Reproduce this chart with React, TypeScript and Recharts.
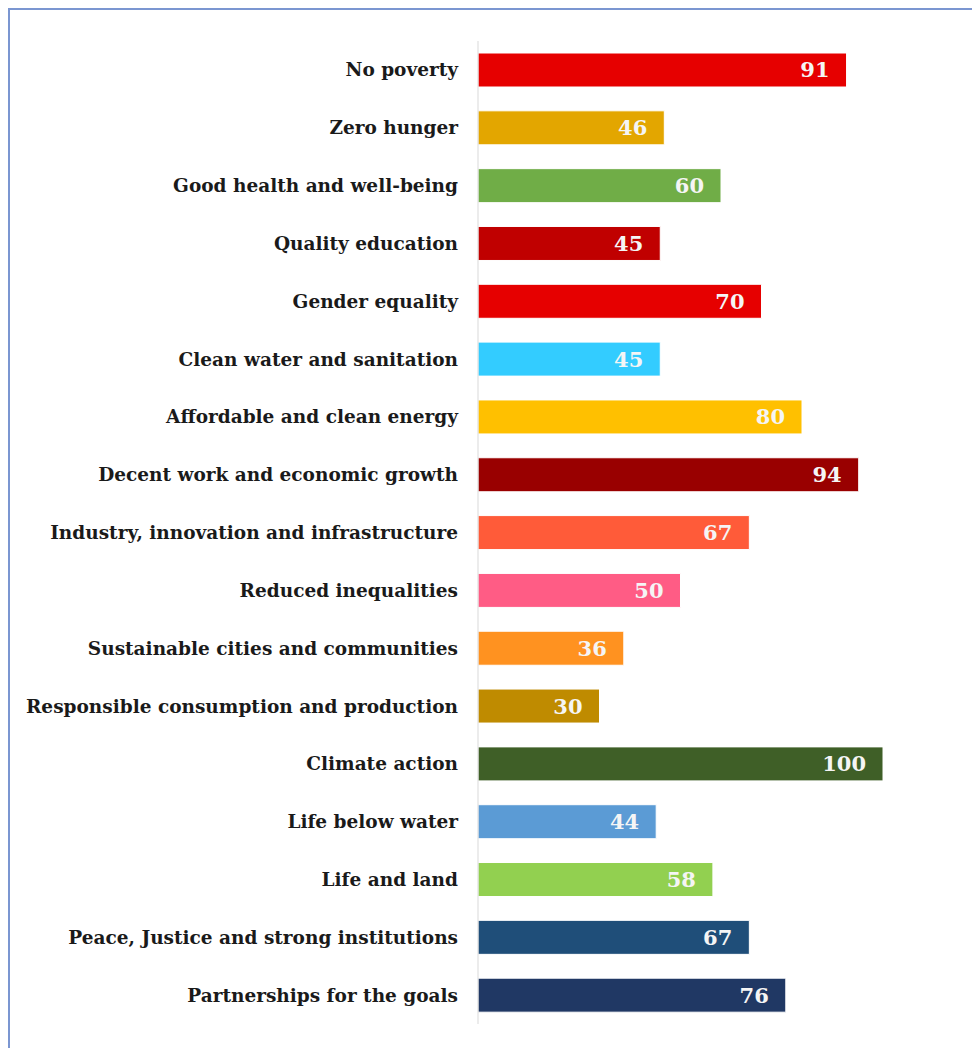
import React from 'react';
import { BarChart, Bar, XAxis, YAxis, Cell, LabelList } from 'recharts';

const goals = [
  'No poverty',
  'Zero hunger',
  'Good health and well-being',
  'Quality education',
  'Gender equality',
  'Clean water and sanitation',
  'Affordable and clean energy',
  'Decent work and economic growth',
  'Industry, innovation and infrastructure',
  'Reduced inequalities',
  'Sustainable cities and communities',
  'Responsible consumption and production',
  'Climate action',
  'Life below water',
  'Life and land',
  'Peace, Justice and strong institutions',
  'Partnerships for the goals',
];

const scores = [91, 46, 60, 45, 70, 45, 80, 94, 67, 50, 36, 30, 100, 44, 58, 67, 76];

const colors = [
  '#e60000', '#e3a600', '#70ad47', '#c00000', '#e60000', '#33ccff',
  '#ffc000', '#990000', '#ff5b39', '#ff5c85', '#ff9220', '#bf8b00',
  '#3f5f27', '#5b9bd5', '#92d050', '#1f4e79', '#203864',
];

const data = goals.map((name, i) => ({ name, value: scores[i] }));

const font = '"DejaVu Serif", serif';

const App = () => {
  return (
    <div style={{ position: 'relative', width: 972, height: 1040 }}>
      <div
        style={{
          position: 'absolute',
          left: 0,
          top: 0,
          right: 0,
          bottom: 0,
          borderTop: '2px solid #7b96d1',
          borderLeft: '2px solid #7b96d1',
        }}
      />
      <BarChart
        width={972}
        height={1040}
        data={data}
        layout="vertical"
        margin={{ top: 33, right: 97, left: 0, bottom: 24 }}
        style={{ position: 'absolute', left: 0, top: 0 }}
      >
        <XAxis type="number" domain={[0, 100]} hide />
        <YAxis
          type="category"
          dataKey="name"
          width={470}
          tickLine={false}
          tickSize={0}
          tickMargin={20}
          axisLine={{ stroke: '#d9d9d9' }}
          interval={0}
          tick={{ fill: '#1a1a1a', fontSize: 18.5, fontWeight: 'bold', fontFamily: font }}
        />
        <Bar dataKey="value" barSize={34} stroke="#ffffff" strokeWidth={1} isAnimationActive={false}>
          {data.map((d, i) => (
            <Cell key={d.name} fill={colors[i]} />
          ))}
          <LabelList
            dataKey="value"
            position="insideRight"
            offset={17}
            fill="#f5f5f5"
            style={{ fontSize: 21, fontWeight: 'bold', fontFamily: font }}
          />
        </Bar>
      </BarChart>
    </div>
  );
};

export default App;
